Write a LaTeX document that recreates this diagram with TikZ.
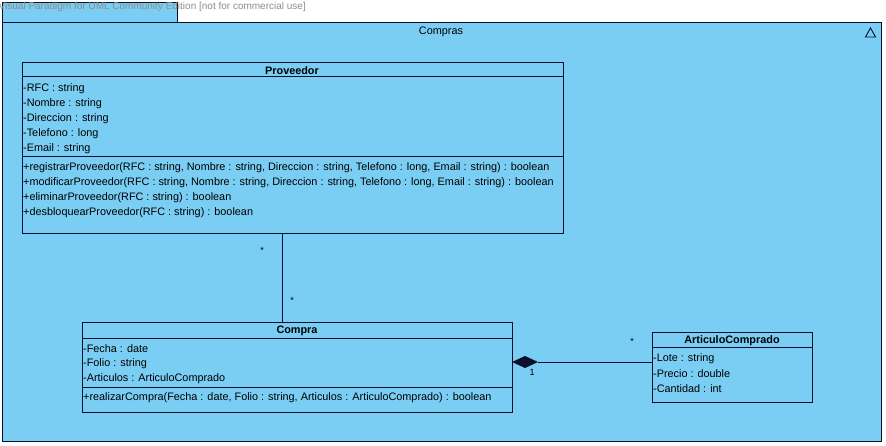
\documentclass[tikz,border=0pt]{standalone}
\usepackage{fontspec}
\setmainfont{Liberation Sans}
\definecolor{pkgfill}{RGB}{122,206,244}
\definecolor{edge}{RGB}{10,15,45}
\definecolor{wm}{RGB}{140,140,140}
\tikzset{
  box/.style={draw=edge, line width=1pt, fill=pkgfill, inner sep=0pt, anchor=north west},
  sep/.style={draw=edge, line width=1pt},
  txt/.style={anchor=west, inner sep=0pt, yshift=-1.5pt, font=\fontsize{10.85}{13}\selectfont, text=black},
  ttl/.style={anchor=center, inner sep=0pt, yshift=-1pt, font=\fontsize{10.85}{13}\selectfont\bfseries, text=black},
  mult/.style={inner sep=0pt, font=\fontsize{9}{10}\selectfont, text=black},
  conn/.style={draw=edge, line width=1pt},
}
\begin{document}
\begin{tikzpicture}[x=1pt,y=-1pt]
\useasboundingbox (0,0) rectangle (886,446);
% package
\node[box, minimum width=175pt, minimum height=20pt] (tab) at (2,2) {};
\node[box, minimum width=879pt, minimum height=419pt] (pkg) at (2,22) {};
\node[anchor=west, inner sep=0pt, font=\fontsize{10}{12}\selectfont, text=wm] (wmark) at (-1.5,7) {Visual Paradigm for UML Community Edition [not for commercial use]};
\node[txt, anchor=center] (pkgname) at (441,30) {Compras};
\draw[edge, line width=0.9pt] (865.5,37) -- (870.5,28) -- (875.5,37) -- cycle;
% Proveedor
\node[box, minimum width=541pt, minimum height=171pt] (prov) at (22,62) {};
\node[ttl] (provt) at (292,70) {Proveedor};
\draw[sep] (22,77) -- (563,77);
\node[txt] at (23,87) {-RFC : string};
\node[txt] at (23,102) {-Nombre : string};
\node[txt] at (23,117) {-Direccion : string};
\node[txt] at (23,132) {-Telefono : long};
\node[txt] at (23,147) {-Email : string};
\draw[sep] (22,157) -- (563,157);
\node[txt] at (23,166) {+registrarProveedor(RFC : string, Nombre : string, Direccion : string, Telefono : long, Email : string) : boolean};
\node[txt] at (23,181) {+modificarProveedor(RFC : string, Nombre : string, Direccion : string, Telefono : long, Email : string) : boolean};
\node[txt] at (23,196) {+eliminarProveedor(RFC : string) : boolean};
\node[txt] at (23,211) {+desbloquearProveedor(RFC : string) : boolean};
% Compra
\node[box, minimum width=430pt, minimum height=90pt] (compra) at (82,322) {};
\node[ttl] at (297,330) {Compra};
\draw[sep] (82,338) -- (512,338);
\node[txt] at (83,347) {-Fecha : date};
\node[txt] at (83,362) {-Folio : string};
\node[txt] at (83,377) {-Articulos : ArticuloComprado};
\draw[sep] (82,387) -- (512,387);
\node[txt] at (83,396) {+realizarCompra(Fecha : date, Folio : string, Articulos : ArticuloComprado) : boolean};
% ArticuloComprado
\node[box, minimum width=160pt, minimum height=70pt] (art) at (652,332) {};
\node[ttl] at (732,340) {ArticuloComprado};
\draw[sep] (652,347) -- (812,347);
\node[txt] at (653,357) {-Lote : string};
\node[txt] at (653,372) {-Precio : double};
\node[txt] at (653,387) {-Cantidad : int};
% connectors
\coordinate (pb) at (282,233);
\coordinate (ct) at (282,322);
\draw[conn] (pb) -- (ct);
\coordinate (dR) at (512,362);
\coordinate (dL) at (538,362);
\coordinate (aL) at (652,362);
\fill[edge] (dR) -- (525,356) -- (dL) -- (525,368) -- cycle;
\draw[conn] (dL) -- (aL);
\node[mult] at (262,250) {*};
\node[mult] at (292,300) {*};
\node[mult] at (632,341) {*};
\node[mult] at (532,372) {1};
\end{tikzpicture}
\end{document}
